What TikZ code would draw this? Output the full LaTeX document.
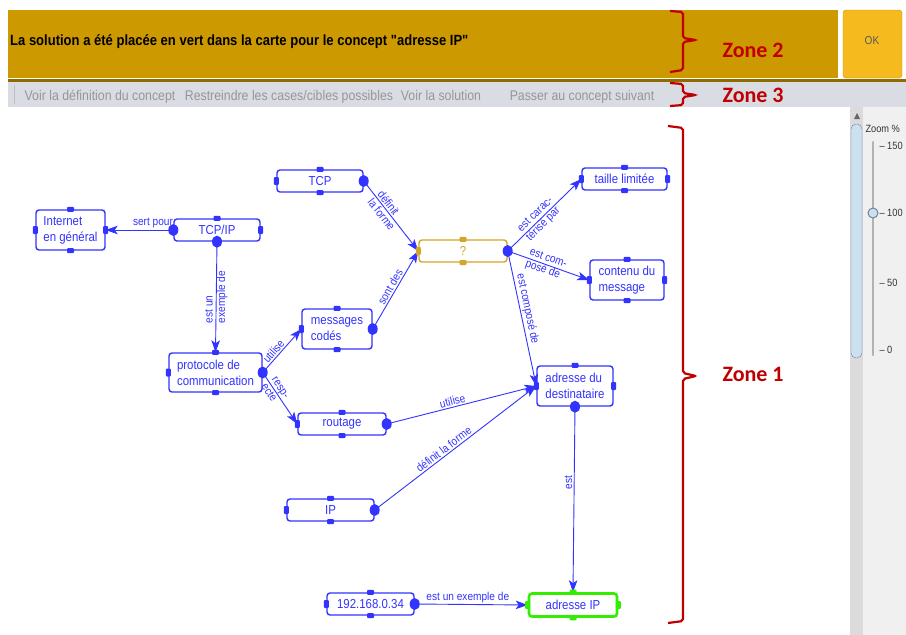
\documentclass[tikz,border=0pt]{standalone}
\usepackage{fontspec}
\usepackage{tikz}
\usetikzlibrary{arrows.meta, positioning}

\newfontfamily\uifont[FakeStretch=0.88]{Liberation Sans}
\newfontfamily\zonefont{Carlito}

\definecolor{mapblue}{RGB}{51,51,255}
\definecolor{mapgold}{RGB}{212,165,40}
\definecolor{mapgreen}{RGB}{51,238,0}
\definecolor{bargold}{RGB}{204,153,0}
\definecolor{okgold}{RGB}{245,186,30}
\definecolor{zonered}{RGB}{192,0,0}
\definecolor{menugray}{RGB}{217,220,227}
\definecolor{menutext}{RGB}{150,150,150}
\definecolor{thumbblue}{RGB}{205,224,240}
\definecolor{thumbedge}{RGB}{110,130,155}

\tikzset{
  concept/.style={draw=mapblue, line width=1.4pt, rounded corners=3pt, fill=white,
    text=mapblue, font=\uifont\fontsize{13}{16}\selectfont, align=left,
    minimum width=86pt, minimum height=22pt, inner sep=2pt},
  link/.style={draw=mapblue, line width=0.9pt, -{Stealth[length=12pt, width=8.5pt, inset=3pt]}},
  linklabel/.style={text=mapblue, font=\uifont\fontsize{11.5}{12.5}\selectfont,
    inner sep=1.5pt, align=left},
  zonebrace/.style={draw=zonered, line width=2.2pt, rounded corners=2pt},
  zonelabel/.style={text=zonered, font=\zonefont\bfseries\fontsize{22}{24}\selectfont, anchor=west},
  menuitem/.style={text=menutext, font=\uifont\fontsize{14}{15}\selectfont, anchor=base},
}

\begin{document}
\begin{tikzpicture}[x=1pt, y=-1pt]
  \useasboundingbox (0,0) rectangle (906,635);
  \clip (0,0) rectangle (906,635);
  \fill[white] (0,0) rectangle (906,635);

  % Zone 2: message bar and OK button
  \fill[bargold] (8,10) rectangle (838,78);
  \node[anchor=west, inner sep=2pt, font=\uifont\bfseries\fontsize{14.8}{16}\selectfont] (msg) at (8,42)
    {La solution a été placée en vert dans la carte pour le concept "adresse IP"};
  \draw[draw=okgold!80!black, fill=okgold, rounded corners=3pt] (843,10) rectangle (902,78);
  \node[text=black!65, font=\uifont\fontsize{11.5}{12}\selectfont] (ok) at (872,41) {OK};

  % Zone 3: menu bar
  \fill[bargold!70!black] (8,79) rectangle (906,82);
  \fill[menugray] (8,82) rectangle (906,107);
  \draw[gray!50] (14,85) -- (14,104);
  \node[menuitem] (m1) at (100,100) {Voir la définition du concept};
  \node[menuitem] (m2) at (289,100) {Restreindre les cases/cibles possibles};
  \node[menuitem] (m3) at (441,100) {Voir la solution};
  \node[menuitem] (m4) at (582,100) {Passer au concept suivant};

  % Zoom panel on the right
  \fill[gray!12] (850,107) rectangle (906,635);
  \fill[gray!28] (850,107) rectangle (863,635);
  \draw[thumbedge, fill=thumbblue, rounded corners=5pt] (851,124) rectangle (862,358);
  \fill[black!60] (854,119) -- (857,113) -- (860,119) -- cycle;
  \node[anchor=west, text=black!80, font=\uifont\fontsize{10.5}{12}\selectfont] (zoomlbl) at (862,129) {Zoom \%};
  \draw[gray!60, line width=2.5pt, line cap=round] (873,142) -- (873,355);
  \foreach \v/\y in {150/146, 100/213, 50/283, 0/350}
    \node[anchor=west, text=black!80, font=\uifont\fontsize{10.5}{12}\selectfont] (tick\v) at (876,\y) {– \v};
  \draw[thumbedge, fill=thumbblue, line width=1pt] (873,213) circle (5pt);

  % Concepts
  \node[concept] (tcp) at (320,181) {TCP};
  \node[concept, minimum width=69pt, minimum height=40pt] (internet) at (70.5,230) {Internet\\en général};
  \node[concept] (tcpip) at (217,230) {TCP/IP};
  \node[concept, draw=mapgold, text=mapgold, minimum width=88pt] (q) at (463,251) {?};
  \node[concept, minimum width=85pt] (taille) at (624.5,179) {taille limitée};
  \node[concept, minimum width=74pt, minimum height=40pt] (contenu) at (627,280) {contenu du\\message};
  \node[concept, minimum width=70pt, minimum height=40pt] (msgs) at (337,329) {messages\\codés};
  \node[concept, minimum width=93pt, minimum height=39pt] (proto) at (215.5,372.5) {protocole de\\communication};
  \node[concept, minimum width=88pt] (routage) at (342,424) {routage};
  \node[concept, minimum width=76pt, minimum height=40pt] (adrdest) at (575,386) {adresse du\\destinataire};
  \node[concept, minimum width=87pt] (ip) at (330.5,510) {IP};
  \node[concept, minimum width=87pt] (ipnum) at (370.5,604) {192.168.0.34};
  \node[concept, draw=mapgreen, line width=2.6pt, minimum width=88pt, minimum height=23pt] (adrip) at (573,605) {adresse IP};

  % Links
  \draw[link] (tcpip.west) -- node[linklabel, pos=0.3, above] (lserv) {sert pour} (internet.east);
  \draw[link] (tcpip.south) -- node[linklabel, midway, rotate=90] (lex1) {est un\\exemple de} (proto.north);
  \draw[link] (tcp.east) -- node[linklabel, pos=0.42, sloped] (ldef1) {définit\\la forme} (q.west);
  \draw[link] (msgs.east) -- node[linklabel, pos=0.5, sloped, above] (lsont) {sont des} (q.west);
  \draw[link] (q.east) -- node[linklabel, pos=0.44, sloped] (lcar) {est carac-\\térisé par} (taille.west);
  \draw[link] (q.east) -- node[linklabel, pos=0.47, sloped] (lcomp1) {est com-\\posé de} (contenu.west);
  \draw[link] (q.east) -- node[linklabel, pos=0.44, sloped, above] (lcomp2) {est composé de} (adrdest.west);
  \draw[link] (proto.east) -- node[linklabel, pos=0.4, sloped, above] (luti1) {utilise} (msgs.west);
  \draw[link] (proto.east) -- node[linklabel, pos=0.36, sloped] (lresp) {resp-\\ecte} (routage.west);
  \draw[link] (routage.east) -- node[linklabel, pos=0.45, sloped, above] (luti2) {utilise} (adrdest.west);
  \draw[link] (ip.east) -- node[linklabel, pos=0.45, sloped, above] (ldef2) {définit la forme} (adrdest.west);
  \draw[link] (adrdest.south) -- node[linklabel, pos=0.41, rotate=90, anchor=south] (lest) {est} (adrip.north);
  \draw[link] (ipnum.east) -- node[linklabel, pos=0.47, above] (lex2) {est un exemple de} (adrip.west);

  % Tabs on the concept boxes
  \foreach \n/\c in {tcp/mapblue, internet/mapblue, tcpip/mapblue, q/mapgold, taille/mapblue,
      contenu/mapblue, msgs/mapblue, proto/mapblue, routage/mapblue, adrdest/mapblue,
      ip/mapblue, ipnum/mapblue, adrip/mapgreen} {
    \fill[\c, rounded corners=1pt] ([shift={(-3.5pt,-2.5pt)}]\n.north) rectangle ([shift={(3.5pt,2.5pt)}]\n.north);
    \fill[\c, rounded corners=1pt] ([shift={(-3.5pt,-2.5pt)}]\n.south) rectangle ([shift={(3.5pt,2.5pt)}]\n.south);
    \fill[\c, rounded corners=1pt] ([shift={(-2.5pt,-4pt)}]\n.west) rectangle ([shift={(2.5pt,4pt)}]\n.west);
    \fill[\c, rounded corners=1pt] ([shift={(-2.5pt,-4pt)}]\n.east) rectangle ([shift={(2.5pt,4pt)}]\n.east);
  }

  % Link sources
  \foreach \d in {tcp.east, tcpip.west, tcpip.south, q.east, msgs.east, proto.east,
      routage.east, adrdest.south, ip.east, ipnum.east}
    \fill[mapblue] (\d) ellipse (5pt and 6pt);

  % Zone braces
  \draw[zonebrace] (670,11) -- (683,12) -- (683,38) -- (696,40) -- (683,42) -- (683,70) -- (670,72);
  \draw[zonebrace] (670,83) -- (683,84) -- (683,93) -- (696,95) -- (683,97) -- (683,105) -- (670,106);
  \draw[zonebrace] (668,126) -- (683,128) -- (683,373) -- (696,376) -- (683,379) -- (683,621) -- (668,623);
  \node[zonelabel] (z2) at (719,50) {Zone 2};
  \node[zonelabel] (z3) at (719,95) {Zone 3};
  \node[zonelabel] (z1) at (719,374) {Zone 1};
\end{tikzpicture}
\end{document}
